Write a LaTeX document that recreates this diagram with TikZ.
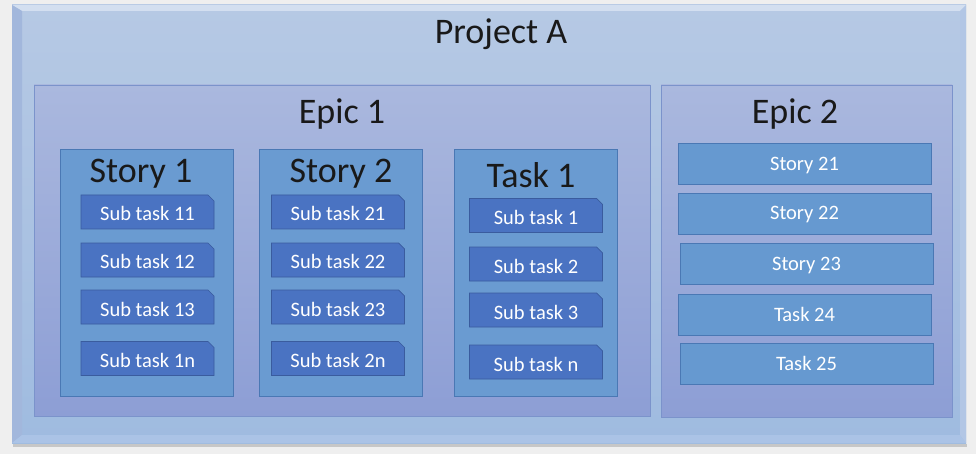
\documentclass[tikz,border=0pt]{standalone}
\usepackage{fontspec}
\setmainfont{Carlito}
\usetikzlibrary{shapes.misc}
\definecolor{bgc}{HTML}{EFEFEF}
\definecolor{projtop}{HTML}{B6C9E4}
\definecolor{projbot}{HTML}{9FBBE0}
\definecolor{epictop}{HTML}{AAB8DE}
\definecolor{epicbot}{HTML}{8D9ED5}
\definecolor{epicline}{HTML}{7B93CB}
\definecolor{storyfill}{HTML}{6A9BD1}
\definecolor{storyline}{HTML}{4A78B4}
\definecolor{subfill}{HTML}{4A73C2}
\definecolor{subline}{HTML}{3A5C9E}
\definecolor{itemfill}{HTML}{6699D0}
\definecolor{bevtop}{HTML}{D3DFF0}
\definecolor{bevleft}{HTML}{A2B7DC}
\definecolor{bevright}{HTML}{B2C6E5}
\definecolor{bevbot}{HTML}{ABC3E6}
\tikzset{
  box/.style={rectangle, inner sep=0pt, outer sep=0pt},
  epicbox/.style={box, draw=epicline, line width=0.7pt, top color=epictop, bottom color=epicbot},
  storybox/.style={box, draw=storyline, line width=0.7pt, fill=storyfill},
  subbox/.style={chamfered rectangle, chamfered rectangle corners=north east, chamfered rectangle xsep=3pt, chamfered rectangle ysep=3pt,
    inner sep=0pt, outer sep=0pt, draw=subline, line width=0.7pt, fill=subfill, minimum width=133pt, minimum height=34pt,
    text=white, font=\fontsize{20.5}{23}\selectfont, text height=18pt, text depth=0pt},
  itembox/.style={box, draw=storyline, line width=0.7pt, fill=itemfill, minimum width=253pt, minimum height=41pt,
    text=white, font=\fontsize{20.5}{23}\selectfont, text height=13pt, text depth=0pt},
  bigtitle/.style={inner sep=0pt, font=\fontsize{36}{40}\selectfont, text=black!90, text height=23pt, text depth=0pt},
}
\begin{document}
\begin{tikzpicture}[x=1pt,y=-1pt]
\useasboundingbox (0,0) rectangle (976,454);
\fill[bgc] (0,0) rectangle (976,454);
% outer project box
\fill[black!22] (13,444) rectangle (967,446.5);
\node[box, top color=projtop, bottom color=projbot, minimum width=954pt, minimum height=438pt] (proj) at (489,224) {};
\fill[bevtop] (12,5) -- (966,5) -- (960,11) -- (22,11) -- cycle;
\fill[bevleft] (12,5) -- (22,11) -- (22,435) -- (12,443) -- cycle;
\fill[bevbot] (12,443) -- (22,435) -- (960,435) -- (966,443) -- cycle;
\fill[bevright] (966,5) -- (960,11) -- (960,435) -- (966,443) -- cycle;
\node[bigtitle] (projt) at (501,32) {Project A};
% epics
\node[epicbox, minimum width=616pt, minimum height=331pt] (epic1) at (342,250.5) {};
\node[epicbox, minimum width=291pt, minimum height=332pt] (epic2) at (806.5,251) {};
\node[bigtitle] (epic1t) at (342,112) {Epic 1};
\node[bigtitle] (epic2t) at (795,112) {Epic 2};
% stories
\node[storybox, minimum width=173pt, minimum height=247pt] (s1) at (146.5,272.5) {};
\node[storybox, minimum width=163pt, minimum height=247pt] (s2) at (340.5,272.5) {};
\node[storybox, minimum width=163pt, minimum height=247pt] (t1) at (535.5,272.5) {};
\node[bigtitle] (s1t) at (141,171) {Story 1};
\node[bigtitle] (s2t) at (341,171) {Story 2};
\node[bigtitle] (t1t) at (531,176) {Task 1};
% subtasks
\node[subbox] (s11) at (147.5,212) {Sub task 11};
\node[subbox] (s12) at (147.5,260) {Sub task 12};
\node[subbox] (s13) at (147.5,307) {Sub task 13};
\node[subbox] (s1n) at (147.5,358.5) {Sub task 1n};
\node[subbox] (s21) at (338,212) {Sub task 21};
\node[subbox] (s22) at (338,260) {Sub task 22};
\node[subbox] (s23) at (338,307) {Sub task 23};
\node[subbox] (s2n) at (338,358.5) {Sub task 2n};
\node[subbox] (t11) at (536,215.5) {Sub task 1};
\node[subbox] (t12) at (536,264) {Sub task 2};
\node[subbox] (t13) at (536,310) {Sub task 3};
\node[subbox] (t1n) at (536,362) {Sub task n};
% epic 2 items
\node[itembox] (st21) at (804.5,164) {Story 21};
\node[itembox] (st22) at (804.5,213.5) {Story 22};
\node[itembox] (st23) at (806.5,263.5) {Story 23};
\node[itembox] (tk24) at (804.5,314.5) {Task 24};
\node[itembox] (tk25) at (806.5,363.5) {Task 25};
\end{tikzpicture}
\end{document}
